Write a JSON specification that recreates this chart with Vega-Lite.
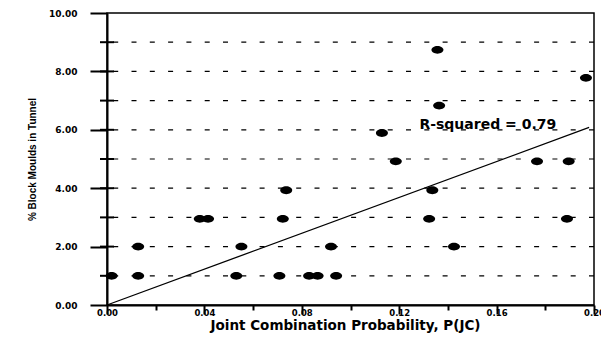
{
  "$schema": "https://vega.github.io/schema/vega-lite/v6.json",
  "width": 487,
  "height": 292,
  "autosize": {"type": "none"},
  "padding": {"left": 107, "top": 13, "right": 7, "bottom": 42},
  "background": "white",
  "config": {
    "view": {"stroke": "black", "strokeWidth": 1.5},
    "font": "Liberation Sans"
  },
  "datasets": {
    "pts": [
      {"p": 0.0019, "v": 1.0}, {"p": 0.0128, "v": 1.0}, {"p": 0.0531, "v": 1.0}, {"p": 0.0708, "v": 1.0},
      {"p": 0.0830, "v": 1.0}, {"p": 0.0865, "v": 1.0}, {"p": 0.0941, "v": 1.0},
      {"p": 0.0128, "v": 2.0}, {"p": 0.0552, "v": 2.0}, {"p": 0.0920, "v": 2.0}, {"p": 0.1425, "v": 2.0},
      {"p": 0.0381, "v": 2.95}, {"p": 0.0415, "v": 2.95}, {"p": 0.0722, "v": 2.95}, {"p": 0.1323, "v": 2.95}, {"p": 0.1889, "v": 2.95},
      {"p": 0.0736, "v": 3.93}, {"p": 0.1336, "v": 3.93},
      {"p": 0.1186, "v": 4.92}, {"p": 0.1766, "v": 4.92}, {"p": 0.1896, "v": 4.92},
      {"p": 0.1129, "v": 5.89}, {"p": 0.1364, "v": 6.83}, {"p": 0.1967, "v": 7.78}, {"p": 0.1357, "v": 8.74}
    ],
    "fit": [{"p": 0.0, "v": 0.0}, {"p": 0.198, "v": 6.08}],
    "inner": [{"p": 0, "v": 1}, {"p": 0, "v": 2}, {"p": 0, "v": 3}, {"p": 0, "v": 4}, {"p": 0, "v": 5}, {"p": 0, "v": 6}, {"p": 0, "v": 7}, {"p": 0, "v": 8}, {"p": 0, "v": 9}],
    "label": [{"p": 0.1283, "v": 6.15, "t": "R-squared = 0.79"}]
  },
  "layer": [
    {
      "data": {"name": "inner"},
      "mark": {"type": "rule", "color": "black", "strokeWidth": 1.2, "strokeDash": [5, 13.3]},
      "encoding": {
        "y": {"field": "v", "type": "quantitative"}
      }
    },
    {
      "data": {"name": "pts"},
      "mark": {"type": "point", "filled": true, "color": "black", "opacity": 1, "size": 144,
        "shape": "M-1,0A1,0.65,0,1,0,1,0A1,0.65,0,1,0,-1,0Z"},
      "encoding": {
        "x": {"field": "p", "type": "quantitative",
          "scale": {"domain": [0, 0.2], "nice": false, "zero": false},
          "axis": {
            "title": "Joint Combination Probability, P(JC)",
            "titleFont": "DejaVu Sans", "titleFontSize": 13.5, "titleFontWeight": "bold", "titleColor": "black",
            "titlePadding": 2, "titleX": 238,
            "values": [0, 0.02, 0.04, 0.06, 0.08, 0.1, 0.12, 0.14, 0.16, 0.18, 0.2],
            "labelExpr": "abs(datum.value*100 % 4) < 0.001 || abs(datum.value*100 % 4 - 4) < 0.001 ? format(datum.value, '.2f') : ''",
            "labelFont": "DejaVu Sans", "labelFontSize": 8.5, "labelFontWeight": "bold", "labelColor": "black",
            "labelPadding": -6, "labelFlush": false, "labelOverlap": false, "labelBound": false,
            "tickSize": {"condition": {"test": "abs(datum.value*100 % 4) < 0.001 || abs(datum.value*100 % 4 - 4) < 0.001", "value": 9}, "value": 5},
            "tickColor": "black", "tickWidth": 2,
            "domainColor": "black", "domainWidth": 2,
            "grid": false
          }
        },
        "y": {"field": "v", "type": "quantitative",
          "scale": {"domain": [0, 10], "nice": false},
          "axis": {
            "title": "% Block Moulds in Tunnel",
            "titleFont": "Liberation Sans", "titleFontSize": 10, "titleFontWeight": "bold", "titleColor": "black",
            "titlePadding": 11,
            "values": [0, 1, 2, 3, 4, 5, 6, 7, 8, 9, 10],
            "labelExpr": "datum.value % 2 === 0 ? format(datum.value, '.2f') : ''",
            "labelFont": "DejaVu Sans", "labelFontSize": 9, "labelFontWeight": "bold", "labelColor": "black",
            "labelPadding": 13, "labelOverlap": false, "labelBound": false, "labelFlush": false,
            "tickSize": {"condition": {"test": "datum.value % 2 === 0", "value": 17}, "value": 8},
            "tickColor": "black", "tickWidth": 2,
            "domainColor": "black", "domainWidth": 2,
            "grid": false
          }
        }
      }
    },
    {
      "data": {"name": "inner"},
      "mark": {"type": "tick", "orient": "horizontal", "color": "black", "size": 14, "thickness": 2, "opacity": 1},
      "encoding": {
        "x": {"field": "p", "type": "quantitative"},
        "y": {"field": "v", "type": "quantitative"}
      }
    },
    {
      "data": {"name": "fit"},
      "mark": {"type": "line", "color": "black", "strokeWidth": 1.3},
      "encoding": {
        "x": {"field": "p", "type": "quantitative"},
        "y": {"field": "v", "type": "quantitative"}
      }
    },
    {
      "data": {"name": "label"},
      "mark": {"type": "text", "align": "left", "baseline": "middle", "font": "DejaVu Sans", "fontSize": 14, "fontWeight": "bold", "color": "black"},
      "encoding": {
        "x": {"field": "p", "type": "quantitative"},
        "y": {"field": "v", "type": "quantitative"},
        "text": {"field": "t"}
      }
    }
  ]
}
